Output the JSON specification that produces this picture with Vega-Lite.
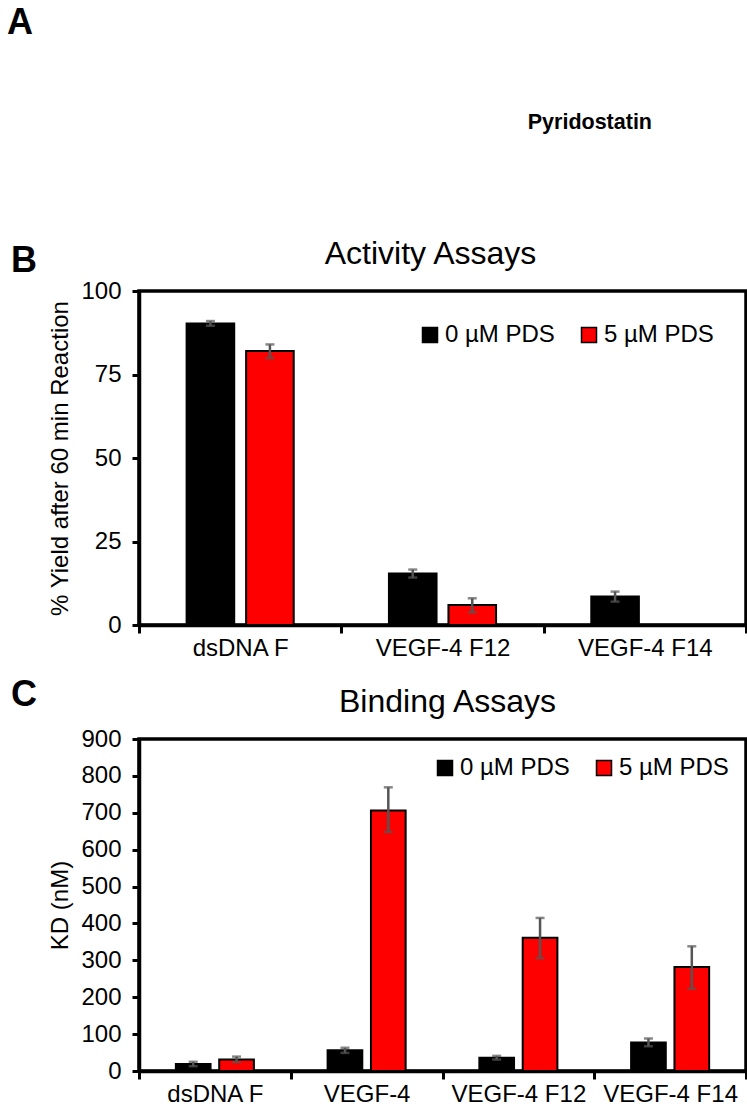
{
  "$schema": "https://vega.github.io/schema/vega-lite/v6.json",
  "background": "white",
  "padding": {"left": 7, "top": 5, "right": 0, "bottom": 0},
  "config": {
    "font": "Liberation Sans",
    "view": {"stroke": "#000", "strokeWidth": 3.5},
    "axis": {
      "grid": false,
      "domainColor": "#000",
      "domainWidth": 3.5,
      "tickColor": "#000",
      "tickWidth": 3,
      "labelFont": "Liberation Sans",
      "labelFontSize": 24,
      "labelColor": "#000",
      "labelOverlap": false,
      "titleFont": "Liberation Sans",
      "titleFontSize": 24,
      "titleFontWeight": "normal",
      "titleColor": "#000"
    },
    "title": {"font": "Liberation Sans", "fontSize": 32, "fontWeight": "normal", "color": "#000"},
    "legend": {
      "title": null,
      "orient": "top-right",
      "direction": "horizontal",
      "symbolType": "square",
      "symbolSize": 225,
      "symbolStrokeColor": "#000",
      "symbolStrokeWidth": 1.5,
      "labelFont": "Liberation Sans",
      "labelFontSize": 24,
      "labelColor": "#000",
      "labelOffset": 3,
      "columnPadding": 22
    }
  },
  "datasets": {
    "activity": [
      {"sample": "dsDNA F", "pds": "0 µM PDS", "value": 90.3, "lo": 89.6, "hi": 91.0},
      {"sample": "dsDNA F", "pds": "5 µM PDS", "value": 82.0, "lo": 79.9, "hi": 84.0},
      {"sample": "VEGF-4 F12", "pds": "0 µM PDS", "value": 15.4, "lo": 14.2, "hi": 16.6},
      {"sample": "VEGF-4 F12", "pds": "5 µM PDS", "value": 6.0, "lo": 3.8, "hi": 8.0},
      {"sample": "VEGF-4 F14", "pds": "0 µM PDS", "value": 8.5, "lo": 7.0, "hi": 10.0}
    ],
    "binding": [
      {"sample": "dsDNA F", "pds": "0 µM PDS", "value": 19, "lo": 13, "hi": 25},
      {"sample": "dsDNA F", "pds": "5 µM PDS", "value": 31, "lo": 24, "hi": 39},
      {"sample": "VEGF-4", "pds": "0 µM PDS", "value": 56, "lo": 49, "hi": 63},
      {"sample": "VEGF-4", "pds": "5 µM PDS", "value": 706, "lo": 648, "hi": 769},
      {"sample": "VEGF-4 F12", "pds": "0 µM PDS", "value": 36, "lo": 31, "hi": 41},
      {"sample": "VEGF-4 F12", "pds": "5 µM PDS", "value": 361, "lo": 306, "hi": 415},
      {"sample": "VEGF-4 F14", "pds": "0 µM PDS", "value": 77, "lo": 67, "hi": 88},
      {"sample": "VEGF-4 F14", "pds": "5 µM PDS", "value": 282, "lo": 223, "hi": 338}
    ]
  },
  "title": {"text": "A", "anchor": "start", "frame": "bounds", "fontSize": 36, "fontWeight": "bold", "offset": 0, "dx": -4},
  "spacing": 102,
  "resolve": {"scale": {"color": "independent", "x": "independent", "y": "independent", "xOffset": "independent"}, "legend": {"color": "independent"}},
  "vconcat": [
    {
      "width": 610,
      "height": 59,
      "view": {"stroke": null},
      "data": {"values": []},
      "mark": "text",
      "encoding": {},
      "title": {"text": "Pyridostatin", "orient": "bottom", "anchor": "end", "frame": "group", "fontSize": 21.5, "fontWeight": "bold", "offset": 11, "dx": -97}
    },
    {
      "spacing": 15,
      "resolve": {"scale": {"color": "independent", "x": "independent", "y": "independent", "xOffset": "independent"}, "legend": {"color": "independent"}},
      "vconcat": [
        {
          "title": {"text": "B", "anchor": "start", "frame": "group", "fontSize": 36, "fontWeight": "bold", "offset": -44, "dx": -128},
          "resolve": {"scale": {"color": "independent", "xOffset": "independent"}, "legend": {"color": "independent"}},
          "vconcat": [
            {
              "title": {"text": "Activity Assays", "offset": 8, "dx": -12},
              "width": 607,
              "height": 334,
              "data": {"name": "activity"},
              "encoding": {
                "x": {"field": "sample", "type": "nominal", "sort": null,
                  "scale": {"paddingInner": 0, "paddingOuter": 0},
                  "axis": {"title": null, "labelAngle": 0, "tickBand": "extent", "tickSize": 8, "labelPadding": 3}},
                "xOffset": {"field": "pds", "type": "nominal", "scale": {"domain": ["0 µM PDS", "5 µM PDS"], "paddingInner": 0.2, "paddingOuter": 0.8}}
              },
              "layer": [
                {
                  "mark": {"type": "bar", "stroke": "#000", "strokeWidth": 2},
                  "encoding": {
                    "y": {"field": "value", "type": "quantitative", "scale": {"domain": [0, 100], "nice": false},
                      "axis": {"title": "% Yield after 60 min Reaction", "values": [0, 25, 50, 75, 100], "labelOverlap": false, "tickSize": 7, "labelPadding": 11, "titlePadding": 8}},
                    "color": {"field": "pds", "type": "nominal", "scale": {"domain": ["0 µM PDS", "5 µM PDS"], "range": ["#000000", "#ff0000"]},
                      "legend": {"offset": 32}}
                  }
                },
                {
                  "mark": {"type": "rule", "color": "#555555", "strokeWidth": 2.5},
                  "encoding": {"y": {"field": "lo", "type": "quantitative"}, "y2": {"field": "hi"}}
                },
                {
                  "mark": {"type": "tick", "color": "#555555", "thickness": 2.5, "size": 9},
                  "encoding": {"y": {"field": "lo", "type": "quantitative"}}
                },
                {
                  "mark": {"type": "tick", "color": "#555555", "thickness": 2.5, "size": 9},
                  "encoding": {"y": {"field": "hi", "type": "quantitative"}}
                }
              ]
            }
          ]
        },
        {
          "title": {"text": "C", "anchor": "start", "frame": "group", "fontSize": 36, "fontWeight": "bold", "offset": -30, "dx": -128},
          "resolve": {"scale": {"color": "independent", "xOffset": "independent"}, "legend": {"color": "independent"}},
          "vconcat": [
            {
              "title": {"text": "Binding Assays", "offset": 8, "dx": 5},
              "width": 607,
              "height": 332,
              "data": {"name": "binding"},
              "encoding": {
                "x": {"field": "sample", "type": "nominal", "sort": null,
                  "scale": {"paddingInner": 0, "paddingOuter": 0},
                  "axis": {"title": null, "labelAngle": 0, "tickBand": "extent", "tickSize": 8, "labelPadding": 3}},
                "xOffset": {"field": "pds", "type": "nominal", "scale": {"domain": ["0 µM PDS", "5 µM PDS"], "paddingInner": 0.2, "paddingOuter": 0.85}}
              },
              "layer": [
                {
                  "mark": {"type": "bar", "stroke": "#000", "strokeWidth": 2},
                  "encoding": {
                    "y": {"field": "value", "type": "quantitative", "scale": {"domain": [0, 900], "nice": false},
                      "axis": {"title": "KD (nM)", "values": [0, 100, 200, 300, 400, 500, 600, 700, 800, 900], "labelOverlap": false, "labelSeparation": 0, "tickSize": 7, "labelPadding": 11, "titlePadding": 8}},
                    "color": {"field": "pds", "type": "nominal", "scale": {"domain": ["0 µM PDS", "5 µM PDS"], "range": ["#000000", "#ff0000"]},
                      "legend": {"offset": 17}}
                  }
                },
                {
                  "mark": {"type": "rule", "color": "#555555", "strokeWidth": 2.5},
                  "encoding": {"y": {"field": "lo", "type": "quantitative",
                    "axis": {"title": "KD (nM)", "values": [0, 100, 200, 300, 400, 500, 600, 700, 800, 900], "labelOverlap": false, "labelSeparation": 0, "tickSize": 7, "labelPadding": 11, "titlePadding": 8}}, "y2": {"field": "hi"}}
                },
                {
                  "mark": {"type": "tick", "color": "#555555", "thickness": 2.5, "size": 9},
                  "encoding": {"y": {"field": "lo", "type": "quantitative",
                    "axis": {"title": "KD (nM)", "values": [0, 100, 200, 300, 400, 500, 600, 700, 800, 900], "labelOverlap": false, "labelSeparation": 0, "tickSize": 7, "labelPadding": 11, "titlePadding": 8}}}
                },
                {
                  "mark": {"type": "tick", "color": "#555555", "thickness": 2.5, "size": 9},
                  "encoding": {"y": {"field": "hi", "type": "quantitative",
                    "axis": {"title": "KD (nM)", "values": [0, 100, 200, 300, 400, 500, 600, 700, 800, 900], "labelOverlap": false, "labelSeparation": 0, "tickSize": 7, "labelPadding": 11, "titlePadding": 8}}}
                }
              ]
            }
          ]
        }
      ]
    }
  ]
}
